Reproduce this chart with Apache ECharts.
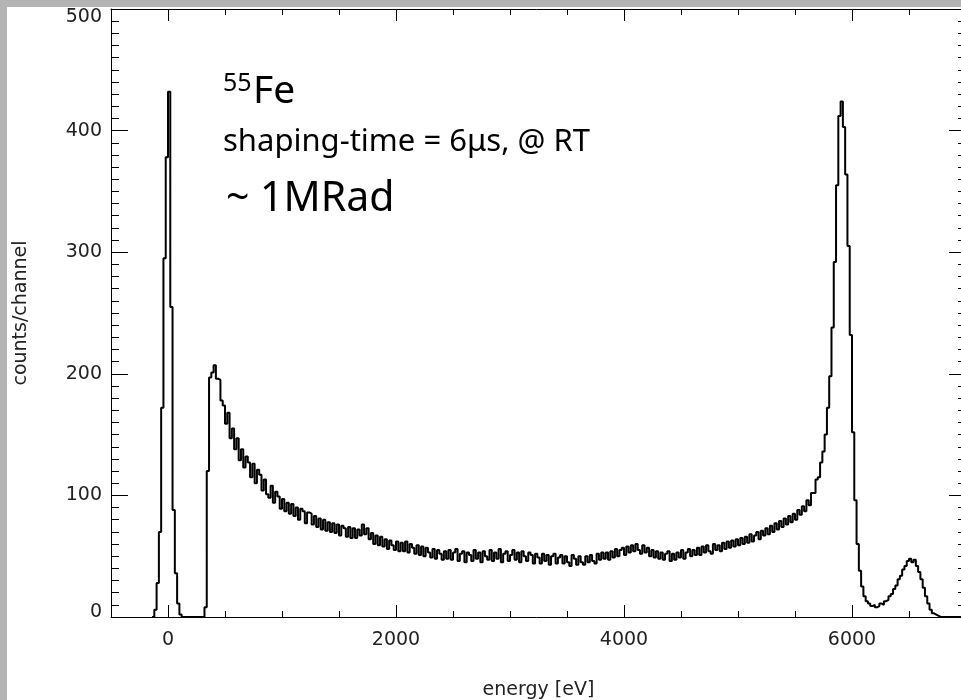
<!DOCTYPE html>
<html>
<head>
<meta charset="utf-8">
<script src="https://cdn.jsdelivr.net/npm/echarts@6/dist/echarts.min.js"></script>
<style>
  html, body { margin: 0; padding: 0; background: #b4b4b4; }
  #paper { position: absolute; left: 7px; top: 7px; width: 954px; height: 693px; background: #fff; }
  #chart { position: absolute; left: 0; top: 0; width: 961px; height: 700px; }
</style>
</head>
<body>
<div id="paper"></div>
<div id="chart"></div>
<script>
// histogram bins: left edge of first bin and bin width (eV)
const binStart = -140;
const binWidth = 20;

// counts per bin
const noisePeak = [0, 6, 28, 70, 172, 295, 378, 432, 255, 88, 36, 11, 2,
  0, 0, 0, 0, 0, 0, 0, 0, 0, 0];
const thresholdEdge = [8, 120, 197, 201, 207, 196];
const continuum = [
  195, 178, 174, 159, 168, 147, 155, 138, 147, 129,
  138, 123, 132, 127, 115, 126, 110, 121, 117, 104,
  113, 101, 98, 108, 94, 103, 99, 89, 97, 87,
  94, 85, 93, 83, 90, 80, 89, 87, 77, 86,
  85, 76, 83, 74, 81, 72, 80, 71, 78, 70,
  77, 69, 76, 67, 75, 73, 66, 74, 65, 73,
  65, 72, 67, 76, 68, 73, 64, 69, 60, 67,
  59, 66, 58, 64, 56, 63, 59, 55, 62, 54,
  61, 54, 62, 53, 60, 57, 52, 59, 51, 58,
  50, 57, 53, 49, 56, 48, 55, 52, 47, 54,
  48, 55, 47, 53, 56, 46, 52, 54, 45, 53,
  51, 46, 55, 48, 53, 45, 54, 50, 47, 55,
  46, 53, 48, 56, 45, 52, 54, 46, 51, 55,
  47, 53, 45, 54, 50, 46, 53, 51, 44, 52,
  49, 44, 52, 46, 51, 43, 50, 52, 44, 49,
  51, 44, 50, 45, 42, 51, 48, 43, 50, 45,
  43, 50, 45, 51, 46, 44, 52, 47, 53, 48,
  53, 47, 54, 49, 56, 50, 55, 57, 51, 58,
  53, 59, 54, 60, 55, 52, 59, 53, 57, 50,
  55, 49, 54, 48, 53, 47, 52, 54, 46, 52,
  47, 53, 49, 55, 48, 53, 56, 50, 55, 51,
  57, 51, 58, 53, 59, 54, 52, 60, 55, 59,
  54, 61, 56, 62, 57, 63, 58, 64, 59, 65,
  60, 66, 61, 68, 62, 67, 70, 64, 71, 67,
  73, 68, 75, 70, 77, 72, 79, 74, 81, 76,
  83, 78, 85, 80, 88, 84, 91, 87, 96, 92,
  102, 102, 113, 115, 127, 136
];
const mnPeaks = [
  150, 172, 198, 238, 292, 355, 412, 424, 403, 364,
  305, 232, 152, 96, 60, 38, 25, 17, 13, 11,
  9, 10, 8, 9, 11, 10, 13, 14, 17, 19,
  23, 26, 31, 34, 39, 42, 46, 48, 45, 47,
  42, 37, 31, 24, 17, 11, 6, 3, 2, 1,
  0, 0, 0, 0, 0, 0, 0, 0, 0, 0, 0, 0
];
const counts = noisePeak.concat(thresholdEdge, continuum, mnPeaks);

const xMajorTicks = [0, 2000, 4000, 6000];

const seriesData = counts.map((c, i) => [binStart + i * binWidth, c]);
seriesData.push([binStart + counts.length * binWidth, counts[counts.length - 1]]);

const black = { color: '#000', width: 1 };
const labelFont = { fontFamily: 'DejaVu Sans', fontSize: 19, color: '#222' };

const xBase = {
  type: 'value', min: -500, max: 7000,
  axisLine: { show: true, onZero: false, lineStyle: black },
  splitLine: { show: false },
};
const yBase = {
  type: 'value', min: 0, max: 500, interval: 100,
  axisLine: { show: true, onZero: false, lineStyle: black },
  axisTick: { inside: true, length: 17, lineStyle: black },
  minorTick: { show: true, splitNumber: 10, length: 8, lineStyle: black },
  splitLine: { show: false },
  minorSplitLine: { show: false },
};

const option = {
  animation: false,
  grid: { left: 111, top: 9, width: 855, height: 608, containLabel: false, outerBoundsMode: 'none' },
  graphic: [
    { type: 'text', left: 223, top: 71, style: { text: '55', font: '25px "Noto Sans"', fill: '#000' } },
    { type: 'text', left: 253, top: 72, style: { text: 'Fe', font: '39px "Noto Sans"', fill: '#000' } },
    { type: 'text', left: 223, top: 127, style: { text: 'shaping-time = 6μs, @ RT', font: '31px "Noto Sans"', fill: '#000' } },
    { type: 'text', left: 226, top: 179, style: { text: '~ 1MRad', font: '41px "Noto Sans"', fill: '#000' } },
  ],
  xAxis: [
    {
      ...xBase, position: 'bottom', interval: 500,
      axisTick: { inside: true, length: 6, lineStyle: black },
      axisLabel: {
        ...labelFont, margin: 14, customValues: xMajorTicks,
        formatter: (v) => (xMajorTicks.indexOf(v) >= 0 ? String(v) : ''),
      },
      name: 'energy [eV]', nameLocation: 'middle', nameGap: 64,
      nameTextStyle: labelFont,
    },
    {
      ...xBase, position: 'bottom', axisLine: { show: false, onZero: false },
      axisTick: { inside: true, length: 12, lineStyle: black, customValues: xMajorTicks },
      axisLabel: { show: false },
    },
    {
      ...xBase, position: 'top', interval: 500,
      axisTick: { inside: true, length: 6, lineStyle: black },
      axisLabel: { show: false },
    },
    {
      ...xBase, position: 'top', axisLine: { show: false, onZero: false },
      axisTick: { inside: true, length: 12, lineStyle: black, customValues: xMajorTicks },
      axisLabel: { show: false },
    },
  ],
  yAxis: [
    {
      ...yBase, position: 'left',
      axisLabel: {
        ...labelFont, margin: 9,
        formatter: (v) => (v === 500 ? '{t|500}' : v === 0 ? '{b|0}' : String(v)),
        rich: {
          t: { ...labelFont, padding: [16, 0, 0, 0] },
          b: { ...labelFont, padding: [0, 0, 10, 0] },
        },
      },
      name: 'counts/channel', nameLocation: 'middle', nameGap: 80, nameRotate: 90,
      nameTextStyle: labelFont,
    },
    { ...yBase, position: 'right', axisLabel: { show: false } },
  ],
  series: [
    {
      type: 'line', step: 'end', xAxisIndex: 0, yAxisIndex: 0,
      data: seriesData, showSymbol: false, clip: true,
      lineStyle: { color: '#000', width: 2 },
    },
  ],
};

const myChart = echarts.init(document.getElementById('chart'));
myChart.setOption(option);
</script>
</body>
</html>
